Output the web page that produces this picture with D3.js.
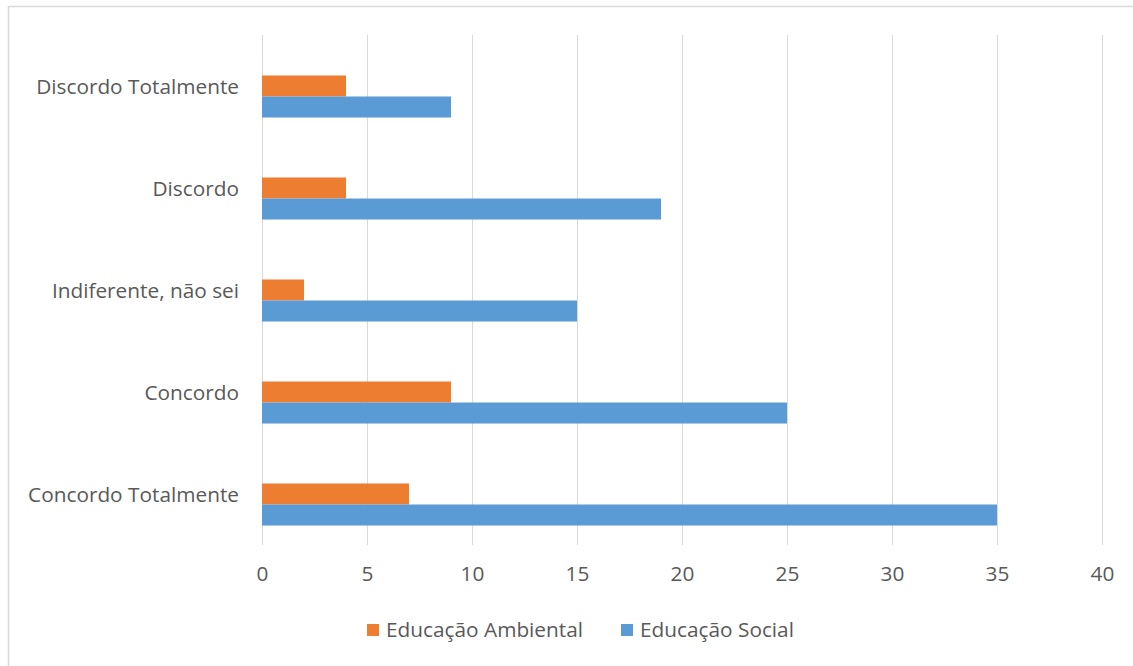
<!DOCTYPE html>
<html>
<head>
<meta charset="utf-8">
<script src="https://cdn.jsdelivr.net/npm/d3@7"></script>
<style>
  body { margin: 0; background: #fff; }
  text { font-family: "Open Sans", sans-serif; fill: #595959; }
</style>
</head>
<body>
<svg id="chart" width="1133" height="666"></svg>
<script>
const categories = ["Discordo Totalmente", "Discordo", "Indiferente, não sei", "Concordo", "Concordo Totalmente"];
const series = ["Educação Ambiental", "Educação Social"];
const ambiental = [4, 4, 2, 9, 7];
const social = [9, 19, 15, 25, 35];
const xTicks = [0, 5, 10, 15, 20, 25, 30, 35, 40];

const colors = { "Educação Ambiental": "#ed7d31", "Educação Social": "#5b9bd5" };
const FONT = "\"Open Sans\", sans-serif";
const FONT_SIZE = "20.8px";

const rows = categories.map((c, i) => ({
  category: c,
  values: [
    { key: series[0], value: ambiental[i] },
    { key: series[1], value: social[i] }
  ]
}));

const svg = d3.select("#chart");

// outer frame (only left/top edges fall inside the picture)
svg.append("rect")
  .attr("x", 8.5).attr("y", 6.5)
  .attr("width", 1140).attr("height", 680)
  .attr("fill", "none")
  .attr("stroke", "#d9d9d9")
  .attr("stroke-width", 1.5);

const x = d3.scaleLinear().domain([0, 40]).range([262, 1102]);
const y = d3.scaleBand().domain(categories).range([35, 545]).paddingInner(0.382).paddingOuter(0.191);
// three slots per band, the first one stays empty as in the original
const sub = d3.scaleBand().domain(["", ...series]).range([0, y.bandwidth()]);

// grid
svg.append("g")
  .selectAll("line")
  .data(xTicks)
  .join("line")
  .attr("x1", d => Math.round(x(d)) + 0.5)
  .attr("x2", d => Math.round(x(d)) + 0.5)
  .attr("y1", 35)
  .attr("y2", 545)
  .attr("stroke", "#d9d9d9")
  .attr("stroke-width", 1);

// bars
const groups = svg.append("g")
  .selectAll("g")
  .data(rows)
  .join("g")
  .attr("transform", d => "translate(0," + y(d.category) + ")");

groups.selectAll("rect")
  .data(d => d.values)
  .join("rect")
  .attr("x", x(0))
  .attr("y", d => sub(d.key))
  .attr("width", d => x(d.value) - x(0))
  .attr("height", sub.bandwidth())
  .attr("fill", d => colors[d.key]);

// x axis labels
const xAxis = svg.append("g")
  .attr("transform", "translate(0,545)")
  .call(d3.axisBottom(x).tickValues(xTicks).tickSize(0).tickPadding(21));
xAxis.select(".domain").remove();
xAxis.selectAll("text")
  .style("font-size", FONT_SIZE)
  .style("font-family", FONT)
  .attr("fill", "#595959");

// category labels
const yAxis = svg.append("g")
  .attr("transform", "translate(239,1)")
  .call(d3.axisLeft(y).tickSize(0).tickPadding(0));
yAxis.select(".domain").remove();
yAxis.selectAll("text")
  .style("font-size", FONT_SIZE)
  .style("font-family", FONT)
  .attr("fill", "#595959");

// legend
const legendX = [367, 621];
const legend = svg.append("g")
  .selectAll("g")
  .data(series)
  .join("g")
  .attr("transform", (d, i) => "translate(" + legendX[i] + ",624)");
legend.append("rect")
  .attr("width", 12).attr("height", 12)
  .attr("fill", d => colors[d]);
legend.append("text")
  .attr("x", 19)
  .attr("y", 6)
  .attr("dy", "0.35em")
  .style("font-size", FONT_SIZE)
  .text(d => d);
</script>
</body>
</html>
